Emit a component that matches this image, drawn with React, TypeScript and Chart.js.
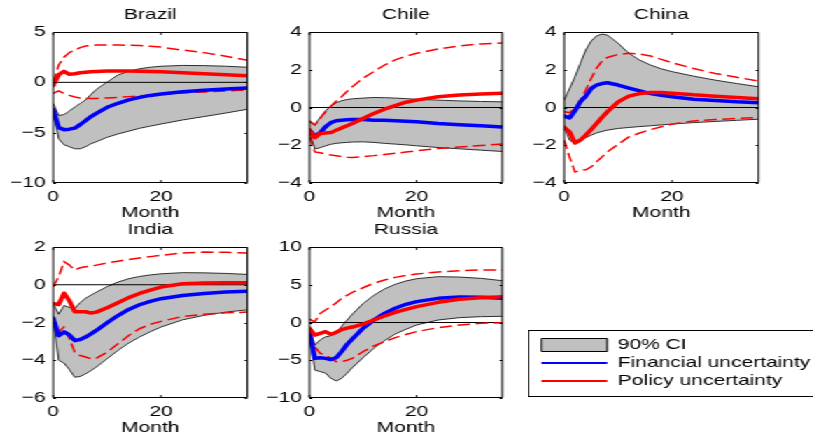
import React, { useEffect, useRef } from "react";
import { Chart, registerables } from "chart.js";

Chart.register(...registerables);

// ---------------- data ----------------
const months = [0, 1, 2, 3, 4, 5, 6, 7, 8, 10, 12, 14, 16, 18, 20, 24, 28, 32, 36];
const monthTicks = [0, 20];

const brazilCiUpper = [-2.1, -3.3, -3.2, -2.85, -2.45, -2.1, -1.75, -1.2, -0.7, 0.03, 0.73, 1.1, 1.35, 1.5, 1.6, 1.68, 1.66, 1.6, 1.5];
const brazilCiLower = [-2.9, -5.6, -6.2, -6.4, -6.6, -6.6, -6.4, -6.1, -5.9, -5.46, -5.13, -4.85, -4.57, -4.35, -4.14, -3.74, -3.4, -3.05, -2.68];
const brazilFinancial = [-2.7, -4.5, -4.7, -4.65, -4.55, -4.2, -3.8, -3.4, -3.08, -2.48, -2.08, -1.75, -1.49, -1.3, -1.16, -0.93, -0.78, -0.66, -0.57];
const brazilPolicy = [-0.3, 0.75, 1.1, 0.8, 0.85, 0.95, 1.0, 1.05, 1.08, 1.12, 1.12, 1.12, 1.1, 1.08, 1.05, 0.95, 0.85, 0.75, 0.65];
const brazilPolicyUpper = [0.0, 1.7, 2.5, 2.95, 3.2, 3.45, 3.6, 3.65, 3.7, 3.72, 3.7, 3.68, 3.65, 3.58, 3.5, 3.2, 2.95, 2.6, 2.2];
const brazilPolicyLower = [-1.1, -0.85, -1.1, -1.3, -1.45, -1.55, -1.58, -1.6, -1.6, -1.55, -1.5, -1.42, -1.35, -1.28, -1.2, -1.05, -0.95, -0.85, -0.76];

const chileCiUpper = [-0.76, -0.93, -0.53, -0.17, 0.07, 0.25, 0.36, 0.42, 0.46, 0.5, 0.53, 0.52, 0.5, 0.47, 0.44, 0.39, 0.35, 0.32, 0.3];
const chileCiLower = [-1.3, -2.2, -2.13, -2.03, -1.95, -1.9, -1.87, -1.85, -1.83, -1.82, -1.85, -1.9, -1.94, -1.98, -2.03, -2.12, -2.19, -2.26, -2.33];
const chileFinancial = [-1.2, -1.52, -1.34, -1.02, -0.8, -0.7, -0.67, -0.65, -0.63, -0.63, -0.67, -0.68, -0.7, -0.73, -0.76, -0.85, -0.91, -0.97, -1.03];
const chilePolicy = [-1.2, -1.6, -1.38, -1.35, -1.33, -1.2, -1.08, -0.97, -0.85, -0.58, -0.32, -0.09, 0.1, 0.28, 0.39, 0.57, 0.66, 0.71, 0.75];
const chilePolicyUpper = [-0.7, -0.93, -0.58, -0.23, 0.07, 0.34, 0.57, 0.85, 1.1, 1.55, 1.9, 2.25, 2.52, 2.72, 2.87, 3.1, 3.26, 3.37, 3.42];
const chilePolicyLower = [-1.55, -2.35, -2.4, -2.46, -2.52, -2.56, -2.6, -2.63, -2.65, -2.6, -2.55, -2.49, -2.43, -2.36, -2.29, -2.17, -2.09, -2.01, -1.94];

const chinaCiUpper = [0.39, 1.0, 1.63, 2.34, 3.04, 3.52, 3.79, 3.89, 3.84, 3.4, 2.87, 2.51, 2.25, 2.05, 1.9, 1.66, 1.45, 1.27, 1.1];
const chinaCiLower = [-1.03, -1.73, -1.91, -1.73, -1.6, -1.47, -1.35, -1.27, -1.2, -1.11, -1.06, -1.01, -0.97, -0.92, -0.88, -0.8, -0.74, -0.68, -0.62];
const chinaFinancial = [-0.45, -0.55, -0.18, 0.3, 0.6, 1.0, 1.19, 1.27, 1.31, 1.19, 1.03, 0.88, 0.74, 0.65, 0.57, 0.44, 0.37, 0.3, 0.25];
const chinaPolicy = [-1.05, -1.29, -1.88, -1.73, -1.47, -1.17, -0.85, -0.53, -0.23, 0.3, 0.6, 0.74, 0.8, 0.8, 0.76, 0.67, 0.6, 0.53, 0.46];
const chinaPolicyUpper = [-0.23, -0.28, -0.05, 0.39, 0.92, 1.54, 2.07, 2.46, 2.65, 2.81, 2.87, 2.83, 2.73, 2.55, 2.37, 2.07, 1.8, 1.6, 1.4];
const chinaPolicyLower = [-1.73, -2.62, -3.42, -3.33, -3.3, -3.15, -2.88, -2.62, -2.35, -1.95, -1.56, -1.35, -1.17, -1.02, -0.88, -0.71, -0.64, -0.58, -0.53];

const indiaCiUpper = [-1.0, -1.56, -1.1, -1.2, -1.25, -0.95, -0.71, -0.55, -0.39, -0.1, 0.14, 0.32, 0.44, 0.52, 0.58, 0.64, 0.63, 0.6, 0.55];
const indiaCiLower = [-1.85, -4.0, -4.15, -4.5, -4.9, -4.86, -4.72, -4.55, -4.36, -3.92, -3.48, -3.09, -2.77, -2.49, -2.24, -1.86, -1.62, -1.45, -1.33];
const indiaFinancial = [-1.78, -2.7, -2.5, -2.66, -2.96, -2.9, -2.77, -2.6, -2.42, -2.01, -1.63, -1.31, -1.06, -0.88, -0.74, -0.57, -0.46, -0.39, -0.35];
const indiaPolicy = [-1.0, -1.05, -0.45, -0.85, -1.43, -1.43, -1.43, -1.5, -1.45, -1.22, -0.95, -0.68, -0.46, -0.28, -0.12, 0.05, 0.09, 0.1, 0.1];
const indiaPolicyUpper = [-0.1, 0.42, 1.22, 1.04, 0.77, 0.9, 0.95, 0.98, 1.04, 1.15, 1.25, 1.34, 1.42, 1.49, 1.56, 1.68, 1.73, 1.72, 1.68];
const indiaPolicyLower = [-1.71, -2.5, -2.24, -2.86, -3.57, -3.75, -3.83, -3.92, -3.89, -3.57, -3.13, -2.69, -2.33, -2.1, -1.94, -1.68, -1.56, -1.49, -1.45];

const russiaCiUpper = [-0.8, -3.0, -2.3, -1.9, -1.75, -1.43, -0.5, 0.3, 1.1, 2.5, 3.6, 4.44, 5.06, 5.5, 5.8, 6.07, 6.02, 5.85, 5.54];
const russiaCiLower = [-1.6, -6.3, -6.5, -6.7, -7.4, -7.75, -7.4, -6.73, -5.98, -4.66, -3.42, -2.41, -1.52, -0.9, -0.33, 0.33, 0.64, 0.77, 0.82];
const russiaFinancial = [-1.2, -4.75, -4.66, -4.75, -4.9, -4.66, -3.86, -2.9, -2.19, -0.77, 0.33, 1.21, 1.88, 2.41, 2.76, 3.2, 3.38, 3.33, 3.2];
const russiaPolicy = [-0.77, -1.66, -1.43, -1.22, -1.55, -1.3, -0.95, -0.75, -0.6, -0.2, 0.33, 0.86, 1.35, 1.75, 2.1, 2.67, 3.07, 3.29, 3.42];
const russiaPolicyUpper = [0.46, 0.1, 1.21, 1.66, 2.1, 2.6, 3.2, 3.6, 4.0, 4.6, 5.2, 5.63, 5.98, 6.22, 6.42, 6.69, 6.87, 6.95, 6.95];
const russiaPolicyLower = [-1.66, -3.2, -4.08, -4.3, -4.75, -5.19, -5.19, -5.0, -4.75, -3.86, -3.11, -2.54, -2.01, -1.58, -1.21, -0.68, -0.33, -0.11, -0.02];

const brazilYTicks = [-10, -5, 0, 5];
const chileYTicks = [-4, -2, 0, 2, 4];
const chinaYTicks = [-4, -2, 0, 2, 4];
const indiaYTicks = [-6, -4, -2, 0, 2];
const russiaYTicks = [-10, -5, 0, 5, 10];

const legendLabels = ["90% CI", "Financial uncertainty", "Policy uncertainty"];

// ---------------- styling / layout ----------------
const STRETCH = 1.4;
const FONT = "'Liberation Sans', Arial, Helvetica, sans-serif";
const GRAY = "#c0c0c0";
const BLUE = "#0000ff";
const RED = "#ff0000";

Chart.defaults.font.family = FONT;
Chart.defaults.font.size = 15;
Chart.defaults.color = "#000";

type PanelSpec = {
  title: string;
  ciUpper: number[];
  ciLower: number[];
  financial: number[];
  policy: number[];
  policyUpper: number[];
  policyLower: number[];
  yTicks: number[];
  left: number;
  top: number;
  padRight: number;
};

const panels: PanelSpec[] = [
  { title: "Brazil", ciUpper: brazilCiUpper, ciLower: brazilCiLower, financial: brazilFinancial, policy: brazilPolicy, policyUpper: brazilPolicyUpper, policyLower: brazilPolicyLower, yTicks: brazilYTicks, left: 0.07, top: 0, padRight: 13.4 },
  { title: "Chile", ciUpper: chileCiUpper, ciLower: chileCiLower, financial: chileFinancial, policy: chilePolicy, policyUpper: chilePolicyUpper, policyLower: chilePolicyLower, yTicks: chileYTicks, left: 182.93, top: 0, padRight: 14.14 },
  { title: "China", ciUpper: chinaCiUpper, ciLower: chinaCiLower, financial: chinaFinancial, policy: chinaPolicy, policyUpper: chinaPolicyUpper, policyLower: chinaPolicyLower, yTicks: chinaYTicks, left: 364.86, top: 0, padRight: 13.21 },
  { title: "India", ciUpper: indiaCiUpper, ciLower: indiaCiLower, financial: indiaFinancial, policy: indiaPolicy, policyUpper: indiaPolicyUpper, policyLower: indiaPolicyLower, yTicks: indiaYTicks, left: 0.07, top: 215, padRight: 13.4 },
  { title: "Russia", ciUpper: russiaCiUpper, ciLower: russiaCiLower, financial: russiaFinancial, policy: russiaPolicy, policyUpper: russiaPolicyUpper, policyLower: russiaPolicyLower, yTicks: russiaYTicks, left: 182.93, top: 215, padRight: 14.14 },
];

const PANEL_W = 190;
const PANEL_H = 222;

const fmtTick = (v: number) => (v < 0 ? "\u2212" + Math.abs(v) : String(v));

const boxPlugin = {
  id: "matlabBox",
  afterDatasetsDraw(chart: any) {
    const { ctx, chartArea: a, scales } = chart;
    const xs = scales.x;
    const ys = scales.y;
    const top = Math.round(a.top) + 0.5;
    const bottom = Math.round(a.bottom) - 0.5;
    ctx.save();
    ctx.strokeStyle = "#000";
    ctx.lineWidth = 1;
    ctx.beginPath();
    ctx.moveTo(a.left, top);
    ctx.lineTo(a.right, top);
    ctx.moveTo(a.left, bottom);
    ctx.lineTo(a.right, bottom);
    ctx.moveTo(a.left, top);
    ctx.lineTo(a.left, bottom);
    ctx.moveTo(a.right, top);
    ctx.lineTo(a.right, bottom);
    for (const t of xs.ticks) {
      const px = xs.getPixelForValue(t.value);
      ctx.moveTo(px, bottom);
      ctx.lineTo(px, bottom - 2.5);
      ctx.moveTo(px, top);
      ctx.lineTo(px, top + 2.5);
    }
    for (const t of ys.ticks) {
      const py = Math.round(ys.getPixelForValue(t.value)) + 0.5;
      ctx.moveTo(a.left, py);
      ctx.lineTo(a.left + 2, py);
      ctx.moveTo(a.right, py);
      ctx.lineTo(a.right - 2, py);
    }
    ctx.stroke();
    ctx.restore();
  },
};

const pts = (vals: number[]) => months.map((m, i) => ({ x: m, y: vals[i] }));

function Panel({ spec }: { spec: PanelSpec }) {
  const ref = useRef<HTMLCanvasElement>(null);
  useEffect(() => {
    if (!ref.current) return;
    const yMin = spec.yTicks[0];
    const yMax = spec.yTicks[spec.yTicks.length - 1];
    const chart = new Chart(ref.current, {
      type: "line",
      data: {
        datasets: [
          { label: "Policy uncertainty", data: pts(spec.policy), borderColor: RED, borderWidth: 3.5, borderJoinStyle: "round", borderCapStyle: "round", fill: false },
          { label: "Financial uncertainty", data: pts(spec.financial), borderColor: BLUE, borderWidth: 3.5, borderJoinStyle: "round", borderCapStyle: "round", fill: false },
          { label: "Policy upper", data: pts(spec.policyUpper), borderColor: RED, borderWidth: 1.5, borderDash: [9, 4], fill: false },
          { label: "Policy lower", data: pts(spec.policyLower), borderColor: RED, borderWidth: 1.5, borderDash: [9, 4], fill: false },
          { label: "zero", data: [{ x: months[0], y: 0 }, { x: months[months.length - 1], y: 0 }], borderColor: "#000", borderWidth: 1, fill: false },
          { label: "90% CI upper", data: pts(spec.ciUpper), borderColor: "#000", borderWidth: 0.8, backgroundColor: GRAY, fill: "+1" },
          { label: "90% CI lower", data: pts(spec.ciLower), borderColor: "#000", borderWidth: 0.8, fill: false },
        ],
      } as any,
      options: {
        responsive: false,
        maintainAspectRatio: false,
        animation: false,
        events: [],
        elements: { point: { radius: 0 }, line: { tension: 0 } },
        layout: { padding: { top: 0, left: 0, bottom: 0, right: spec.padRight } },
        plugins: {
          legend: { display: false },
          tooltip: { enabled: false },
          filler: { drawTime: "beforeDatasetsDraw" },
          title: {
            display: true,
            fullSize: false,
            text: spec.title,
            color: "#000",
            font: { size: 15, weight: "normal", family: FONT },
            padding: { top: 6, bottom: 8 },
          },
        },
        scales: {
          x: {
            type: "linear",
            min: months[0],
            max: months[months.length - 1],
            grid: { display: false, drawTicks: false },
            border: { display: false },
            ticks: { color: "#000", font: { size: 15 }, padding: 4.7, maxRotation: 0, autoSkip: false },
            title: { display: true, text: "Month", color: "#000", font: { size: 15 }, padding: { top: 0, bottom: 0 } },
            afterBuildTicks: (s: any) => {
              s.ticks = monthTicks.map((v) => ({ value: v }));
            },
            afterFit: (s: any) => {
              s.height = PANEL_H - 183;
            },
          },
          y: {
            type: "linear",
            min: yMin,
            max: yMax,
            grid: { display: false, drawTicks: false },
            border: { display: false },
            ticks: { color: "#000", font: { size: 15 }, padding: 5.4, callback: (v: any) => fmtTick(Number(v)) },
            afterBuildTicks: (s: any) => {
              s.ticks = spec.yTicks.map((v) => ({ value: v }));
            },
            afterFit: (s: any) => {
              s.width = 38;
            },
          },
        },
      } as any,
      plugins: [boxPlugin],
    });
    return () => chart.destroy();
  }, [spec]);
  return (
    <canvas
      ref={ref}
      width={PANEL_W}
      height={PANEL_H}
      style={{ position: "absolute", left: spec.left, top: spec.top, width: PANEL_W, height: PANEL_H }}
    />
  );
}

const legendBorderPlugin = {
  id: "legendBorder",
  afterDraw(chart: any) {
    const { ctx } = chart;
    ctx.save();
    ctx.strokeStyle = "#000";
    ctx.lineWidth = 1;
    ctx.strokeRect(0.5, 0.5, chart.width - 1, chart.height - 1);
    ctx.restore();
  },
};

const LEGEND_W = 470;
const LEGEND_H = 67;

function LegendBox() {
  const ref = useRef<HTMLCanvasElement>(null);
  useEffect(() => {
    if (!ref.current) return;
    const items = [
      { text: legendLabels[0], fillStyle: GRAY, strokeStyle: "#000", lineWidth: 1, pointStyle: "rect", hidden: false, datasetIndex: 0 },
      { text: legendLabels[1], fillStyle: "rgba(0,0,0,0)", strokeStyle: BLUE, lineWidth: 2, pointStyle: "line", hidden: false, datasetIndex: 1 },
      { text: legendLabels[2], fillStyle: "rgba(0,0,0,0)", strokeStyle: RED, lineWidth: 2, pointStyle: "line", hidden: false, datasetIndex: 2 },
    ];
    const chart = new Chart(ref.current, {
      type: "line",
      data: { datasets: [] },
      options: {
        responsive: false,
        maintainAspectRatio: false,
        animation: false,
        events: [],
        layout: { padding: { left: 6.8, top: 4.5, right: 0, bottom: 0 } },
        scales: { x: { display: false }, y: { display: false } },
        plugins: {
          tooltip: { enabled: false },
          title: { display: false },
          legend: {
            display: true,
            position: "left",
            align: "start",
            labels: {
              usePointStyle: true,
              pointStyleWidth: 47,
              boxHeight: 13,
              padding: 3,
              color: "#000",
              font: { size: 15, family: FONT },
              generateLabels: () => items,
            },
          },
        },
      } as any,
      plugins: [legendBorderPlugin],
    });
    return () => chart.destroy();
  }, []);
  return (
    <canvas
      ref={ref}
      width={LEGEND_W}
      height={LEGEND_H}
      style={{ position: "absolute", left: 377.1, top: 330, width: LEGEND_W, height: LEGEND_H }}
    />
  );
}

export default function App() {
  return (
    <div
      style={{
        position: "absolute",
        left: 0,
        top: 0,
        width: 814 / STRETCH,
        height: 437,
        overflow: "hidden",
        background: "#fff",
        transform: `scaleX(${STRETCH})`,
        transformOrigin: "0 0",
      }}
    >
      {panels.map((p) => (
        <Panel key={p.title} spec={p} />
      ))}
      <LegendBox />
    </div>
  );
}
